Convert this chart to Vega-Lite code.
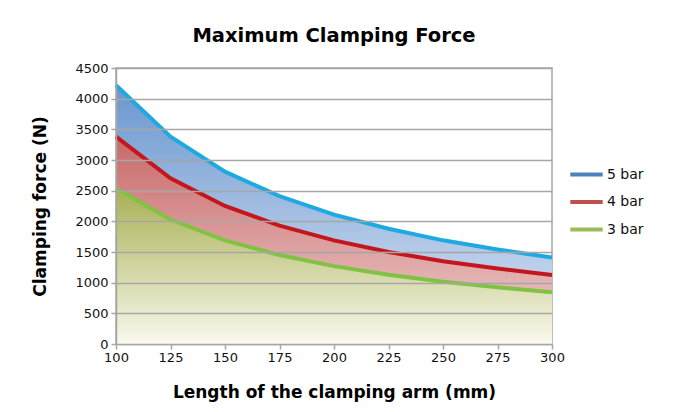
{
  "$schema": "https://vega.github.io/schema/vega-lite/v6.json",
  "autosize": "none",
  "width": 436,
  "height": 276,
  "padding": {"left": 116, "top": 68, "right": 139, "bottom": 68},
  "background": "white",
  "title": {"text": "Maximum Clamping Force", "font": "DejaVu Sans", "fontSize": 19.5, "fontWeight": "bold", "offset": 16, "anchor": "middle", "color": "#000000"},
  "config": {
    "view": {"stroke": "#a6a6a6", "strokeWidth": 1.5},
    "axis": {"labelFont": "DejaVu Sans", "labelFontSize": 13, "labelColor": "#111111", "titleFont": "DejaVu Sans", "titleFontSize": 17, "titleFontWeight": "bold", "titleColor": "#000000", "domainColor": "#a6a6a6", "domainWidth": 1.5, "tickColor": "#a6a6a6", "tickWidth": 1.5, "tickSize": 5, "gridColor": "#a6a6a6", "gridWidth": 1.5, "format": "d"}
  },
  "data": {"values": [
    {"L": 100, "series": "5 bar", "F": 4220},
    {"L": 125, "series": "5 bar", "F": 3380},
    {"L": 150, "series": "5 bar", "F": 2810},
    {"L": 175, "series": "5 bar", "F": 2410},
    {"L": 200, "series": "5 bar", "F": 2110},
    {"L": 225, "series": "5 bar", "F": 1880},
    {"L": 250, "series": "5 bar", "F": 1690},
    {"L": 275, "series": "5 bar", "F": 1540},
    {"L": 300, "series": "5 bar", "F": 1410},
    {"L": 100, "series": "4 bar", "F": 3380},
    {"L": 125, "series": "4 bar", "F": 2700},
    {"L": 150, "series": "4 bar", "F": 2250},
    {"L": 175, "series": "4 bar", "F": 1930},
    {"L": 200, "series": "4 bar", "F": 1690},
    {"L": 225, "series": "4 bar", "F": 1500},
    {"L": 250, "series": "4 bar", "F": 1350},
    {"L": 275, "series": "4 bar", "F": 1230},
    {"L": 300, "series": "4 bar", "F": 1125},
    {"L": 100, "series": "3 bar", "F": 2540},
    {"L": 125, "series": "3 bar", "F": 2030},
    {"L": 150, "series": "3 bar", "F": 1690},
    {"L": 175, "series": "3 bar", "F": 1450},
    {"L": 200, "series": "3 bar", "F": 1270},
    {"L": 225, "series": "3 bar", "F": 1130},
    {"L": 250, "series": "3 bar", "F": 1015},
    {"L": 275, "series": "3 bar", "F": 925},
    {"L": 300, "series": "3 bar", "F": 845}
  ]},
  "encoding": {
    "x": {"field": "L", "type": "quantitative", "scale": {"domain": [100, 300], "nice": false, "zero": false},
      "axis": {"title": "Length of the clamping arm (mm)", "values": [100, 125, 150, 175, 200, 225, 250, 275, 300], "grid": false, "labelPadding": 2, "titlePadding": 20, "labelFlush": false}},
    "y": {"field": "F", "type": "quantitative", "scale": {"domain": [0, 4500], "nice": false},
      "axis": {"title": "Clamping force (N)", "values": [0, 500, 1000, 1500, 2000, 2500, 3000, 3500, 4000, 4500], "grid": true, "zindex": 1, "labelPadding": 3, "titlePadding": 25}}
  },
  "layer": [
    {"transform": [{"filter": "datum.series === '5 bar'"}],
     "mark": {"type": "area", "fill": {"gradient": "linear", "x1": 0, "y1": 0, "x2": 0, "y2": 1, "stops": [{"offset": 0, "color": "#6a96cf"}, {"offset": 1, "color": "#dde7f5"}]}}},
    {"transform": [{"filter": "datum.series === '4 bar'"}],
     "mark": {"type": "area", "fill": {"gradient": "linear", "x1": 0, "y1": 0, "x2": 0, "y2": 1, "stops": [{"offset": 0, "color": "#c86868"}, {"offset": 1, "color": "#f0d2d2"}]}}},
    {"transform": [{"filter": "datum.series === '3 bar'"}],
     "mark": {"type": "area", "fill": {"gradient": "linear", "x1": 0, "y1": 0, "x2": 0, "y2": 1, "stops": [{"offset": 0, "color": "#a7b052"}, {"offset": 1, "color": "#faf8ee"}]}}},
    {"mark": {"type": "line", "strokeWidth": 4, "strokeOpacity": 0},
     "encoding": {"color": {"field": "series", "type": "nominal", "scale": {"domain": ["5 bar", "4 bar", "3 bar"], "range": ["#4f81bd", "#c0504d", "#9bbb59"]},
       "legend": {"title": null, "orient": "none", "legendX": 455, "legendY": 91, "symbolType": "M-1.2,0H1.2", "symbolSize": 729, "symbolStrokeWidth": 4, "symbolOpacity": 1, "symbolFillColor": "transparent", "labelFont": "DejaVu Sans", "labelFontSize": 14, "labelColor": "#111111", "labelOffset": 5, "rowPadding": 3.5}}}},
    {"mark": {"type": "line", "strokeWidth": 4},
     "encoding": {"stroke": {"field": "series", "type": "nominal", "scale": {"domain": ["5 bar", "4 bar", "3 bar"], "range": ["#1fa9e1", "#c5161d", "#80c342"]}, "legend": null}}}
  ]
}
